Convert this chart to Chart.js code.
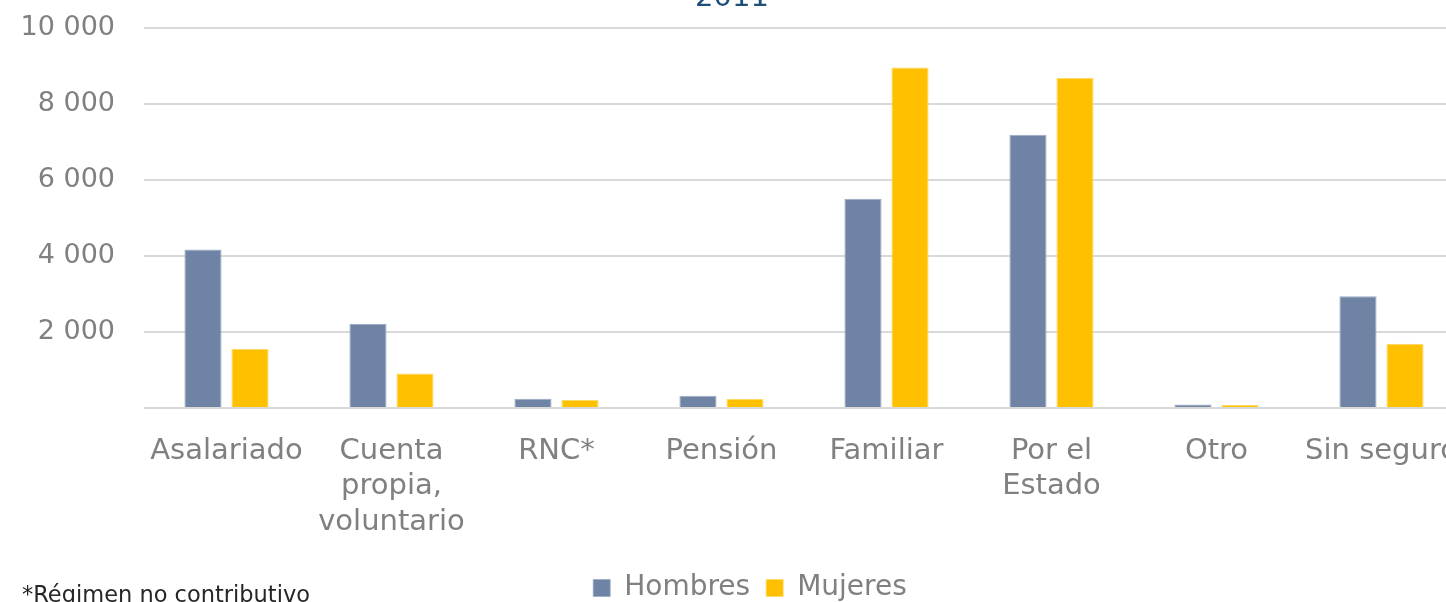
<!DOCTYPE html>
<html lang="es">
<head>
<meta charset="utf-8">
<title>2011</title>
<script src="https://cdn.jsdelivr.net/npm/chart.js@4.4.1/dist/chart.umd.min.js"></script>
<style>
  html, body { margin: 0; padding: 0; background: #fff; overflow: hidden; }
  body { width: 1446px; height: 602px; position: relative; }
  #chart { position: absolute; left: 0; top: -30px; }
  #note {
    position: absolute; left: 22px; top: 583px;
    font-family: "DejaVu Sans", sans-serif; font-size: 22.5px; line-height: 22px;
    color: #262626; white-space: nowrap;
  }
</style>
</head>
<body>
<canvas id="chart" width="1464" height="642"></canvas>
<div id="note">*Régimen no contributivo</div>
<script>
// data
const categories = [
  "Asalariado",
  ["Cuenta", "propia,", "voluntario"],
  "RNC*",
  "Pensión",
  "Familiar",
  ["Por el", "Estado"],
  "Otro",
  "Sin seguro"
];
const hombres = [4170, 2210, 245, 325, 5505, 7190, 90, 2940];
const mujeres = [1555, 905, 210, 237, 8955, 8680, 85, 1690];
const yTicks = [0, 2000, 4000, 6000, 8000, 10000];

const FONT = "'DejaVu Sans', sans-serif";
const GREY = "#808080";

function fmt(v) {
  if (v === 0) return "";
  return String(v).replace(/\B(?=(\d{3})+(?!\d))/g, " ");
}

// legend sits a little right of the canvas centre in the original
const legendShift = {
  id: "legendShift",
  afterLayout(chart) {
    chart.legend.left += 36;
  }
};

const ctx = document.getElementById("chart");
const chart = new Chart(ctx, {
  type: "bar",
  data: {
    labels: categories,
    datasets: [
      {
        label: "Hombres",
        data: hombres,
        backgroundColor: "#6F84A4",
        borderColor: "#9AAAC2",
        borderWidth: { top: 1, left: 1, right: 1, bottom: 0 },
        categoryPercentage: 0.57,
        barPercentage: 0.79
      },
      {
        label: "Mujeres",
        data: mujeres,
        backgroundColor: "#FFC000",
        borderColor: "#FFD966",
        borderWidth: { top: 1, left: 1, right: 1, bottom: 0 },
        categoryPercentage: 0.57,
        barPercentage: 0.79
      }
    ]
  },
  plugins: [legendShift],
  options: {
    responsive: false,
    animation: false,
    devicePixelRatio: 1,
    layout: { padding: { left: 0, right: 0, top: 0, bottom: 0 } },
    plugins: {
      title: {
        display: true,
        text: "2011",
        color: "#1F4E79",
        font: { family: FONT, size: 29, weight: "normal" },
        padding: { top: 11, bottom: 12 }
      },
      legend: {
        position: "bottom",
        labels: {
          color: GREY,
          font: { family: FONT, size: 28 },
          boxWidth: 17,
          boxHeight: 17,
          padding: 16
        }
      },
      tooltip: { enabled: false }
    },
    scales: {
      x: {
        grid: { display: false },
        border: { display: false },
        ticks: {
          color: GREY,
          font: { family: FONT, size: 29, lineHeight: 1.24 },
          maxRotation: 0,
          minRotation: 0,
          autoSkip: false,
          padding: 17
        },
        afterFit: (scale) => {
          scale.height = 150;
          scale.paddingLeft = 0;
          scale.paddingRight = 0;
        }
      },
      y: {
        min: 0,
        max: 10000,
        afterBuildTicks: (scale) => { scale.ticks = yTicks.map(v => ({ value: v })); },
        grid: { color: "#D9D9D9", lineWidth: 2, drawTicks: false },
        border: { display: false },
        ticks: {
          color: GREY,
          font: { family: FONT, size: 27 },
          padding: 29,
          callback: (v) => fmt(v)
        },
        afterFit: (scale) => { scale.width = 144; }
      }
    }
  }
});
</script>
</body>
</html>
